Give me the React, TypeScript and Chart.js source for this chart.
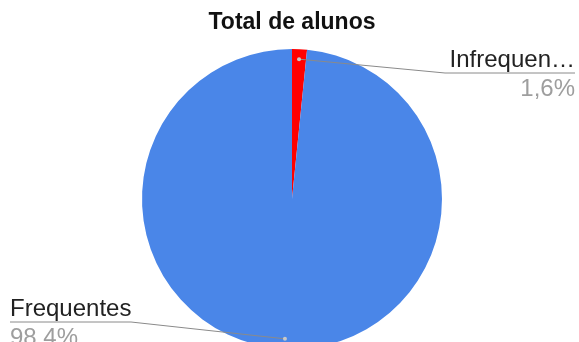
import React, { useEffect, useRef } from 'react';
import { Chart, registerables } from 'chart.js';

Chart.register(...registerables);

const chartTitle = 'Total de alunos';
const categories = ['Infrequentes', 'Frequentes'];
const values = [1.6, 98.4];
const shownNames = ['Infrequen…', 'Frequentes'];
const percentLabels = ['1,6%', '98.4%'];
const sliceColors = ['#ff0000', '#4a86e8'];

const FONT = "Arial, 'Liberation Sans', sans-serif";

// label placement (layout, not data)
const labelLayout = [
  { side: 'right', elbowX: 445, lineY: 73, endX: 575 },
  { side: 'left', elbowX: 131, lineY: 322, endX: 10 },
];

const leaderPlugin = {
  id: 'leaderLabels',
  afterDraw(chart: any) {
    const ctx = chart.ctx;
    const meta = chart.getDatasetMeta(0);
    meta.data.forEach((arc: any, i: number) => {
      const p = arc.getProps(['x', 'y', 'startAngle', 'endAngle', 'outerRadius'], true);
      const mid = (p.startAngle + p.endAngle) / 2;
      const r = p.outerRadius - 10;
      const dx = p.x + Math.cos(mid) * r;
      const dy = p.y + Math.sin(mid) * r;
      const lay = labelLayout[i];
      ctx.save();
      ctx.strokeStyle = '#8a8a8a';
      ctx.lineWidth = 1;
      ctx.beginPath();
      ctx.moveTo(dx, dy);
      ctx.lineTo(lay.elbowX, lay.lineY);
      ctx.lineTo(lay.endX, lay.lineY);
      ctx.stroke();
      ctx.fillStyle = '#c8c8c8';
      ctx.beginPath();
      ctx.arc(dx, dy, 2, 0, Math.PI * 2);
      ctx.fill();
      ctx.font = `24px ${FONT}`;
      ctx.textAlign = lay.side === 'right' ? 'right' : 'left';
      ctx.textBaseline = 'alphabetic';
      ctx.fillStyle = '#222222';
      ctx.fillText(shownNames[i], lay.endX, lay.lineY - 6);
      ctx.fillStyle = '#9e9e9e';
      ctx.fillText(percentLabels[i], lay.endX, lay.lineY + 23);
      ctx.restore();
    });
  },
};

export default function App() {
  const ref = useRef<HTMLCanvasElement>(null);
  useEffect(() => {
    if (!ref.current) return;
    const chart = new Chart(ref.current, {
      type: 'pie',
      data: {
        labels: categories,
        datasets: [
          {
            data: values,
            backgroundColor: sliceColors,
            borderWidth: 0,
          },
        ],
      },
      options: {
        responsive: false,
        animation: false,
        layout: { padding: { top: 0, left: 5, right: 0, bottom: 11 } },
        plugins: {
          legend: { display: false },
          tooltip: { enabled: false },
          title: {
            display: true,
            text: chartTitle,
            color: '#111111',
            font: { family: FONT, size: 23, weight: 'bold', lineHeight: 1.2 },
            padding: { top: 9, bottom: 12.4 },
          },
        },
      },
      plugins: [leaderPlugin],
    });
    return () => chart.destroy();
  }, []);
  return (
    <div
      style={{
        position: 'absolute',
        left: 0,
        top: 0,
        width: 579,
        height: 342,
        overflow: 'hidden',
        background: '#ffffff',
      }}
    >
      <canvas ref={ref} width={579} height={360} style={{ width: 579, height: 360, display: 'block' }} />
    </div>
  );
}
